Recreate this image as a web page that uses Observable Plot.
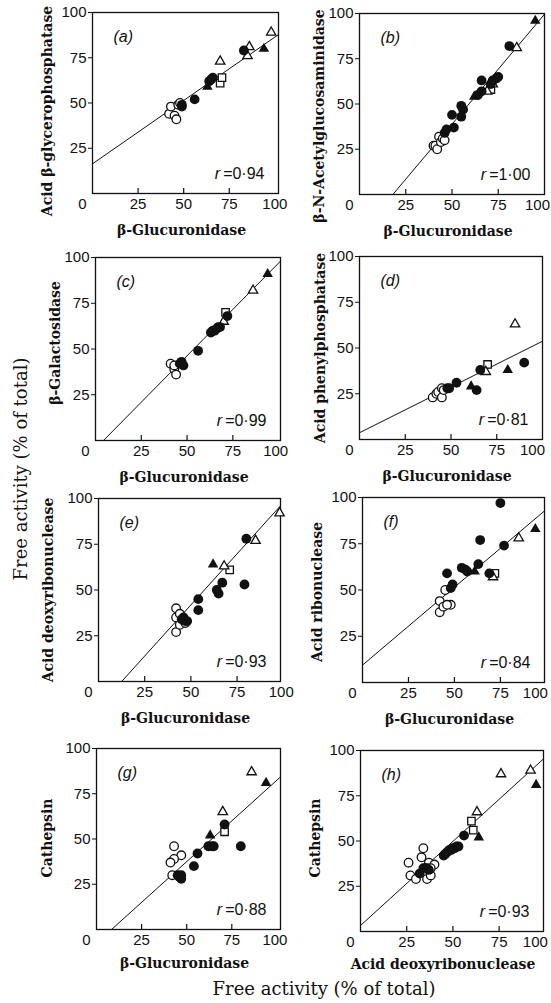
<!DOCTYPE html>
<html><head><meta charset="utf-8">
<script src="https://cdn.jsdelivr.net/npm/d3@7"></script>
<script src="https://cdn.jsdelivr.net/npm/@observablehq/plot@0.6"></script>
<style>
html,body{margin:0;padding:0;background:#fff;}
#root{position:relative;width:551px;height:1003px;overflow:hidden;background:#fff;color:#111;}
#root > div.panel{position:absolute;}
.big{position:absolute;font-family:"DejaVu Serif",serif;font-size:18px;white-space:nowrap;color:#111;}
</style></head><body>
<div id="root"></div>
<script>
// ---------- data ----------
const panelTags = ["(a)","(b)","(c)","(d)","(e)","(f)","(g)","(h)"];
const yLabels = ["Acid β-glycerophosphatase","β-N-Acetylglucosaminidase","β-Galactosidase","Acid phenylphosphatase","Acid deoxyribonuclease","Acid ribonuclease","Cathepsin","Cathepsin"];
const xLabels = ["β-Glucuronidase","β-Glucuronidase","β-Glucuronidase","β-Glucuronidase","β-Glucuronidase","β-Glucuronidase","β-Glucuronidase","Acid deoxyribonuclease"];
const rValues = ["0·94","1·00","0·99","0·81","0·93","0·84","0·88","0·93"];
const lineIntercepts = [16.4, -21.9, -4.4, 3.7, -14, 9.4, -7.5, 3.3];
const lineSlopes = [0.70, 1.215, 1.014, 0.50, 1.117, 0.842, 0.90, 0.93];
const xInnerTickLabels = [25, 50, 75];
const xEndTickLabel = [100];
const yTickValues = [25, 50, 75, 100];
const innerTickValues = [25, 50, 75];
const cornerLabel = "0";
const commonYTitle = "Free activity (% of total)";
const commonXTitle = "Free activity (% of total)";

// points: [x, y, kind]; kinds: oc open circle, fc filled circle, ot open triangle, ft filled triangle, os open square
const pointsA = [[42,44,"oc"],[43,48,"oc"],[45,43,"oc"],[46,41,"oc"],[47,49,"oc"],[48,50,"oc"],
  [49,49,"fc"],[49,48,"fc"],[56,52,"fc"],[64,62,"fc"],[65,63,"fc"],[66,64,"fc"],[83,79,"fc"],
  [63,59,"ft"],[94,80,"ft"],[70,73,"ot"],[85,76,"ot"],[86,81,"ot"],[98,89,"ot"],[70,61,"os"],[71,64,"os"]];
const pointsB = [[40,27,"oc"],[41,27,"oc"],[42,25,"oc"],[43,32,"oc"],[44,29,"oc"],[45,31,"oc"],[46,30,"oc"],
  [46,34,"fc"],[47,36,"fc"],[51,37,"fc"],[50,44,"fc"],[55,49,"fc"],[56,47,"fc"],[55,43,"fc"],[64,55,"fc"],[66,57,"fc"],
  [66,63,"fc"],[71,61,"fc"],[72,63,"fc"],[74,64,"fc"],[75,65,"fc"],[81,82,"fc"],
  [62,54,"ft"],[95,96,"ft"],[69,57,"ot"],[72,61,"ot"],[85,81,"ot"],[71,58,"os"]];
const pointsC = [[41,42,"oc"],[43,39,"oc"],[44,36,"oc"],[43,41,"oc"],
  [46,42,"fc"],[47,43,"fc"],[48,41,"fc"],[56,49,"fc"],[63,59,"fc"],[64,60,"fc"],[65,60,"fc"],[66,61,"fc"],[67,62,"fc"],[68,62,"fc"],[72,68,"fc"],
  [94,91,"ft"],[70,65,"ot"],[86,82,"ot"],[71,70,"os"]];
const pointsD = [[40,23,"oc"],[42,25,"oc"],[43,26,"oc"],[45,28,"oc"],[45,23,"oc"],[46,27,"oc"],
  [48,28,"fc"],[49,28,"fc"],[53,31,"fc"],[64,27,"fc"],[66,38,"fc"],[90,42,"fc"],
  [61,29,"ft"],[81,38,"ft"],[69,37,"ot"],[85,63,"ot"],[70,41,"os"]];
const pointsE = [[42,40,"oc"],[42,35,"oc"],[42,27,"oc"],[44,37,"oc"],[44,31,"oc"],[47,32,"oc"],
  [45,34,"fc"],[46,35,"fc"],[47,33,"fc"],[48,33,"fc"],[54,45,"fc"],[54,39,"fc"],[64,50,"fc"],[65,48,"fc"],[67,54,"fc"],[80,78,"fc"],[79,53,"fc"],
  [62,64,"ft"],[68,63,"ot"],[85,77,"ot"],[98,92,"ot"],[71,61,"os"]];
const pointsF = [[45,50,"oc"],[42,44,"oc"],[42,38,"oc"],[44,41,"oc"],[48,42,"oc"],[46,42,"oc"],
  [46,59,"fc"],[48,51,"fc"],[49,53,"fc"],[54,62,"fc"],[56,61,"fc"],[57,60,"fc"],[63,64,"fc"],[64,77,"fc"],[69,59,"fc"],[75,97,"fc"],[77,74,"fc"],
  [61,60,"ft"],[94,83,"ft"],[85,78,"ot"],[71,57,"ot"],[72,59,"os"]];
const pointsG = [[43,46,"oc"],[47,41,"oc"],[43,39,"oc"],[41,37,"oc"],[42,30,"oc"],
  [45,30,"fc"],[46,29,"fc"],[47,30,"fc"],[47,28,"fc"],[54,35,"fc"],[56,42,"fc"],[62,46,"fc"],[64,46,"fc"],[65,46,"fc"],[71,58,"fc"],[80,46,"fc"],
  [63,52,"ft"],[94,81,"ft"],[70,65,"ot"],[86,87,"ot"],[71,54,"os"]];
const pointsH = [[34,46,"oc"],[33,41,"oc"],[26,38,"oc"],[27,31,"oc"],[30,29,"oc"],[36,29,"oc"],[37,38,"oc"],[40,37,"oc"],[38,31,"oc"],[38,35,"oc"],
  [32,32,"fc"],[34,35,"fc"],[35,35,"fc"],[36,35,"fc"],[37,34,"fc"],[45,42,"fc"],[46,43,"fc"],[47,44,"fc"],[48,45,"fc"],[49,45,"fc"],[50,46,"fc"],[51,46,"fc"],[52,47,"fc"],[53,47,"fc"],[56,53,"fc"],
  [64,52,"ft"],[95,81,"ft"],[63,66,"ot"],[76,87,"ot"],[92,89,"ot"],[60,61,"os"],[61,56,"os"]];
const allPoints = [pointsA, pointsB, pointsC, pointsD, pointsE, pointsF, pointsG, pointsH];

// ---------- layout & style ----------
const layout = [
  {L:92,  R:278, T:12,  B:193, xMax:102,  yl:-45, yld:8,  hd:0,   xld:-4, xly:37},
  {L:359, R:544, T:13,  B:194, xMax:100,  yl:-40, yld:12, hd:-7,  xld:-4, xly:37},
  {L:95,  R:280, T:257, B:440, xMax:101,  yl:-40, yld:-6, hd:-3,  xld:-4, xly:37},
  {L:359, R:542, T:256, B:439, xMax:100,  yl:-39, yld:0,  hd:-10, xld:-4, xly:37},
  {L:98,  R:280, T:498, B:681, xMax:98.5, yl:-50, yld:0,  hd:-2,  xld:-4, xly:37},
  {L:362, R:544, T:497, B:682, xMax:99,   yl:-45, yld:2,  hd:-11, xld:-4, xly:37},
  {L:96,  R:280, T:748, B:929, xMax:102,  yl:-49, yld:-1, hd:-2,  xld:-4, xly:34},
  {L:360, R:543, T:750, B:931, xMax:99,   yl:-45, yld:-3, hd:-10, xld:-9, xly:33}
];
const kindStyle = {
  oc: {symbol:"circle",   fill:"white", stroke:"#111", r:4.3},
  os: {symbol:"square",   fill:"white", stroke:"#111", r:4.2},
  ot: {symbol:"triangle", fill:"white", stroke:"#111", r:3.5},
  fc: {symbol:"circle",   fill:"#111",  stroke:"none", r:4.9},
  ft: {symbol:"triangle", fill:"#111",  stroke:"none", r:3.9}
};
const kindOrder = ["oc","os","ot","fc","ft"];
const SANS = "Liberation Sans, Arial, sans-serif";
const SERIF = "DejaVu Serif, serif";

const ctx = document.createElement("canvas").getContext("2d");
ctx.font = "16px 'Liberation Sans'";

const root = document.getElementById("root");
const mt = 12, mb = 52;

layout.forEach((lay, i) => {
  const right = i % 2 === 1;
  const left0 = right ? 270 : 0;
  const W = right ? 281 : 292;
  const FH = lay.B - lay.T;
  const pts = allPoints[i];
  const lineData = [-20, 130].map(x => ({x, y: lineIntercepts[i] + lineSlopes[i] * x}));
  const rText = "=" + rValues[i];
  const rW = ctx.measureText(rText).width;
  const tickTxt = {fontFamily:SANS, fontSize:15, fill:"#111", frameAnchor:"bottom", lineAnchor:"top", textAnchor:"middle", dy:5};
  const marks = [
    Plot.frame({stroke:"#111", strokeWidth:1.3}),
    Plot.tickX(innerTickValues, {x: d => d, insetTop: FH - 5, stroke:"#111", strokeWidth:1.2}),
    Plot.line(lineData, {x:"x", y:"y", clip:true, stroke:"#111", strokeWidth:1}),
    ...kindOrder.map(k => Plot.dot(pts.filter(p => p[2] === k), {
      x: d => d[0], y: d => d[1], symbol: kindStyle[k].symbol, r: kindStyle[k].r,
      fill: kindStyle[k].fill, stroke: kindStyle[k].stroke, strokeWidth: 1.3
    })),
    Plot.text(xInnerTickLabels, {...tickTxt, x: d => d, text: d => String(d)}),
    Plot.text(xEndTickLabel, {...tickTxt, x: d => d, text: d => String(d), dx: lay.hd}),
    Plot.text([cornerLabel], {...tickTxt, text: d => d, frameAnchor:"bottom-left", dx:-10}),
    Plot.text([panelTags[i]], {text: d => d, frameAnchor:"top-left", dx:21, dy:24, textAnchor:"start", lineAnchor:"middle",
      fontFamily:SANS, fontStyle:"italic", fontSize:16, fill:"#111"}),
    Plot.text([rText], {text: d => d, frameAnchor:"bottom-right", dx:-14, dy:-20, textAnchor:"end", lineAnchor:"middle",
      fontFamily:SANS, fontSize:16, fill:"#111"}),
    Plot.text(["r"], {text: d => d, frameAnchor:"bottom-right", dx:-14 - rW - 3, dy:-20, textAnchor:"end", lineAnchor:"middle",
      fontFamily:SANS, fontStyle:"italic", fontSize:16, fill:"#111"}),
    Plot.text([xLabels[i]], {text: d => d, frameAnchor:"bottom", dx:lay.xld, dy:lay.xly, textAnchor:"middle", lineAnchor:"middle",
      fontFamily:SERIF, fontWeight:"bold", fontSize:14, fill:"#111"}),
    Plot.text([yLabels[i]], {text: d => d, frameAnchor:"left", dx:lay.yl, dy:lay.yld, rotate:-90, textAnchor:"middle", lineAnchor:"middle",
      fontFamily:SERIF, fontWeight:"bold", fontSize:14, fill:"#111"})
  ];
  const chart = Plot.plot({
    width: W, height: FH + mt + mb,
    marginLeft: lay.L - left0, marginRight: W - (lay.R - left0), marginTop: mt, marginBottom: mb,
    x: {domain:[0, lay.xMax], axis: null},
    y: {domain:[0, 100], ticks: yTickValues, tickSize:4, tickPadding:2, label:null, tickFormat: d => String(d)},
    style: {background:"none", overflow:"visible", fontFamily: SANS, fontSize:"15px", color:"#111"},
    marks
  });
  const wrap = document.createElement("div");
  wrap.className = "panel";
  wrap.style.left = left0 + "px";
  wrap.style.top = (lay.T - mt) + "px";
  wrap.appendChild(chart);
  root.appendChild(wrap);
});

const yt = document.createElement("div");
yt.className = "big";
yt.textContent = commonYTitle;
yt.style.left = "20px"; yt.style.top = "469px";
yt.style.transform = "translate(-50%,-50%) rotate(-90deg)";
root.appendChild(yt);

const xt = document.createElement("div");
xt.className = "big";
xt.textContent = commonXTitle;
xt.style.left = "324px"; xt.style.top = "988px";
xt.style.transform = "translate(-50%,-50%)";
root.appendChild(xt);
</script>
</body></html>
